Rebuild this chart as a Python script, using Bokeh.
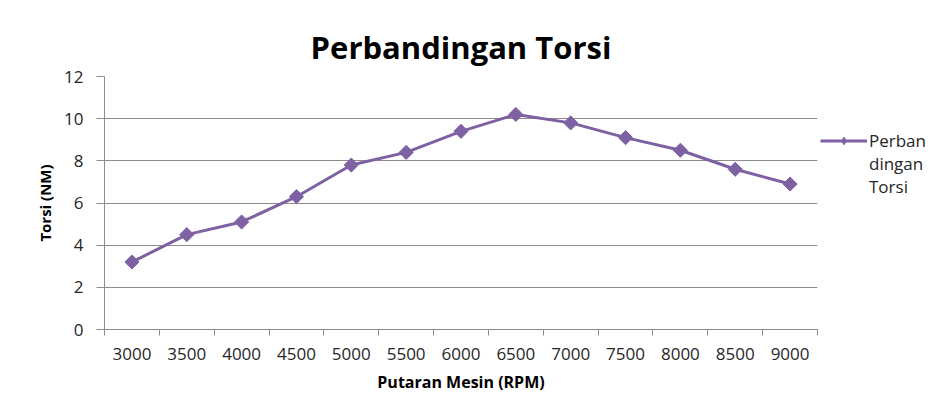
import math
from bokeh.plotting import figure
from bokeh.models import (ColumnDataSource, FixedTicker, Legend, LegendItem, Range1d)
from bokeh.embed import file_html
from bokeh.resources import INLINE

rpm = ["3000", "3500", "4000", "4500", "5000", "5500", "6000",
       "6500", "7000", "7500", "8000", "8500", "9000"]
torsi = [3.2, 4.5, 5.1, 6.3, 7.8, 8.4, 9.4, 10.2, 9.8, 9.1, 8.5, 7.6, 6.9]
y_ticks = [0, 2, 4, 6, 8, 10, 12]

title_text = "Perbandingan Torsi"
series_label_lines = ["Perban", "dingan", "Torsi"]
x_title = "Putaran Mesin (RPM)"
y_title = "Torsi (NM)"

COLOR = "#7d61a3"
GRID = "#8c8c8c"
FONT = "Open Sans"

xpos = [i + 0.5 for i in range(len(rpm))]
src = ColumnDataSource(dict(x=xpos, y=torsi))

p = figure(frame_width=713, frame_height=253, output_backend="svg", toolbar_location=None,
           x_range=Range1d(0, len(rpm)), y_range=Range1d(0, 12),
           min_border_left=104, min_border_right=100, min_border_top=76,
           min_border_bottom=72)

p.title.text = title_text
p.title.align = "center"
p.title.text_font = FONT
p.title.text_font_size = "31px"
p.title.text_font_style = "bold"
p.title.text_color = "#000000"
p.title.standoff = 17

p.outline_line_color = None
p.xgrid.visible = False
p.ygrid.grid_line_color = GRID
p.ygrid.grid_line_width = 1
p.ygrid.ticker = FixedTicker(ticks=y_ticks)

# y axis
p.yaxis.ticker = FixedTicker(ticks=y_ticks)
p.yaxis.axis_line_color = GRID
p.yaxis.major_tick_line_color = GRID
p.yaxis.major_tick_out = 8
p.yaxis.major_tick_in = 0
p.yaxis.minor_tick_line_color = None
p.yaxis.major_label_text_font = FONT
p.yaxis.major_label_text_font_size = "17px"
p.yaxis.major_label_text_color = "#262626"
p.yaxis.major_label_standoff = 13
p.yaxis.axis_label = y_title
p.yaxis.axis_label_text_font = FONT
p.yaxis.axis_label_text_font_size = "15px"
p.yaxis.axis_label_text_font_style = "bold"
p.yaxis.axis_label_text_color = "#000000"
p.yaxis.axis_label_standoff = 6

# x axis: labels at category centres, ticks at category boundaries
p.xaxis.ticker = FixedTicker(ticks=xpos, minor_ticks=list(range(len(rpm) + 1)))
p.xaxis.major_label_overrides = {x: lab for x, lab in zip(xpos, rpm)}
p.xaxis.axis_line_color = GRID
p.xaxis.major_tick_line_color = None
p.xaxis.major_tick_out = 6
p.xaxis.major_tick_in = 0
p.xaxis.minor_tick_line_color = GRID
p.xaxis.minor_tick_out = 6
p.xaxis.minor_tick_in = 0
p.xaxis.major_label_text_font = FONT
p.xaxis.major_label_text_font_size = "17px"
p.xaxis.major_label_text_color = "#262626"
p.xaxis.major_label_standoff = 12
p.xaxis.axis_label = x_title
p.xaxis.axis_label_text_font = FONT
p.xaxis.axis_label_text_font_size = "16px"
p.xaxis.axis_label_text_font_style = "bold"
p.xaxis.axis_label_text_color = "#000000"
p.xaxis.axis_label_standoff = 8

ln = p.line("x", "y", source=src, line_color=COLOR, line_width=3)
# small diamonds (hidden under the markers) that give the legend its diamond glyph
sc_leg = p.scatter("x", "y", source=src, marker="diamond", size=8,
                   fill_color=COLOR, line_color=COLOR)
sc = p.scatter("x", "y", source=src, marker="square", angle=math.pi / 4, size=10,
               fill_color=COLOR, line_color=COLOR)

items = [LegendItem(label=series_label_lines[0], renderers=[ln, sc_leg])]
items += [LegendItem(label=t, renderers=[]) for t in series_label_lines[1:]]
legend = Legend(items=items,
                location=(3, 131), border_line_color=None,
                background_fill_alpha=0, padding=0, margin=0, spacing=0,
                glyph_width=47, glyph_height=19, label_standoff=2,
                label_height=19,
                label_text_font=FONT, label_text_font_size="17px",
                label_text_color="#262626")
p.add_layout(legend, "right")

open("out.html", "w").write(file_html(p, INLINE))
